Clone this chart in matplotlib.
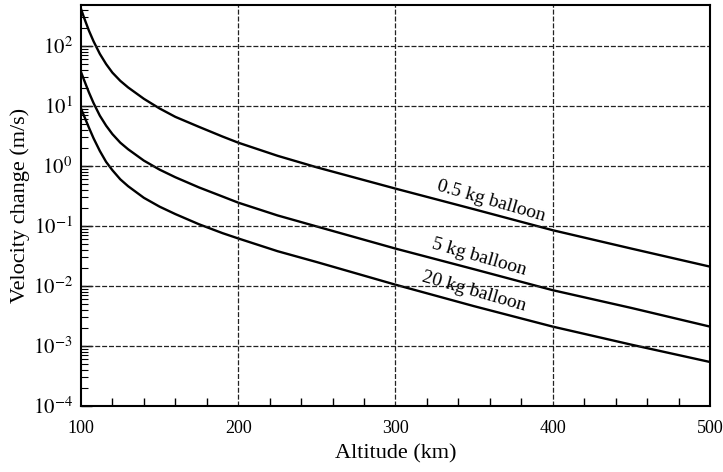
import math
import matplotlib
matplotlib.use("Agg")
import matplotlib.pyplot as plt
from matplotlib.ticker import LogLocator, FuncFormatter, NullFormatter, MultipleLocator

plt.rcParams['font.family'] = ['Liberation Serif', 'DejaVu Serif']
plt.rcParams['mathtext.fontset'] = 'stix'

# altitude (km) and velocity change (m/s)
altitude = [100, 102, 105, 108, 112, 116, 120, 125, 130, 140, 150, 160, 175, 190, 200,
            225, 250, 300, 350, 400, 450, 500]
dv_05kg = [417, 295, 182, 120, 74, 50, 36, 26.3, 20.4, 13.2, 9.1, 6.6, 4.5, 3.1, 2.45,
           1.48, 0.95, 0.42, 0.19, 0.085, 0.042, 0.021]
dv_5kg = [37, 27, 17, 11.2, 6.9, 4.7, 3.4, 2.45, 1.9, 1.23, 0.87, 0.65, 0.44, 0.31, 0.245,
          0.15, 0.098, 0.042, 0.019, 0.0085, 0.0043, 0.0021]
dv_20kg = [9.1, 6.8, 4.4, 2.9, 1.78, 1.17, 0.85, 0.60, 0.46, 0.295, 0.21, 0.158, 0.107, 0.076, 0.062,
           0.038, 0.025, 0.0105, 0.0046, 0.0021, 0.00105, 0.00054]

labels = ['0.5 kg balloon', '5 kg balloon', '20 kg balloon']
label_pos = [(361, 0.26), (353, 0.030), (350, 0.0079)]

fig = plt.figure(figsize=(7.23, 4.72), dpi=100)
ax = fig.add_axes([0.112, 0.140, 0.870, 0.849])

for dv in (dv_05kg, dv_5kg, dv_20kg):
    ax.plot(altitude, dv, color='black', lw=1.7)

for text, (x, y) in zip(labels, label_pos):
    ax.text(x, y, text, fontsize=14, rotation=-16, ha='center', va='center',
            rotation_mode='anchor')

ax.set_yscale('log')
ax.set_xlim(100, 500)
ax.set_ylim(1e-4, 480)

ax.xaxis.set_major_locator(MultipleLocator(100))
ax.xaxis.set_minor_locator(MultipleLocator(20))
ax.yaxis.set_major_locator(LogLocator(base=10, numticks=20))
ax.yaxis.set_minor_locator(LogLocator(base=10, subs=range(2, 10), numticks=20))
ax.yaxis.set_minor_formatter(NullFormatter())
ax.yaxis.set_major_formatter(FuncFormatter(lambda v, p: r'$10^{%d}$' % round(math.log10(v))))

ax.tick_params(which='both', direction='in', top=False, right=False)
ax.tick_params(axis='x', which='major', length=0, pad=10, labelsize=13)
ax.tick_params(axis='x', which='minor', length=6, width=1)
ax.tick_params(axis='y', which='major', length=8, width=1, pad=6, labelsize=15)
ax.tick_params(axis='y', which='minor', length=5, width=0.8)

for s in ax.spines.values():
    s.set_linewidth(1.5)

for xv in (200, 300, 400):
    ax.axvline(xv, color='#222222', lw=0.9, ls=(0, (4, 1.5)))
for e in range(-3, 3):
    ax.axhline(10.0 ** e, color='#222222', lw=0.9, ls=(0, (4, 1.5)))

ax.set_xlabel('Altitude (km)', fontsize=16, labelpad=5)
ax.set_ylabel('Velocity change (m/s)', fontsize=16, labelpad=2)

fig.savefig('out.png', dpi=100)
